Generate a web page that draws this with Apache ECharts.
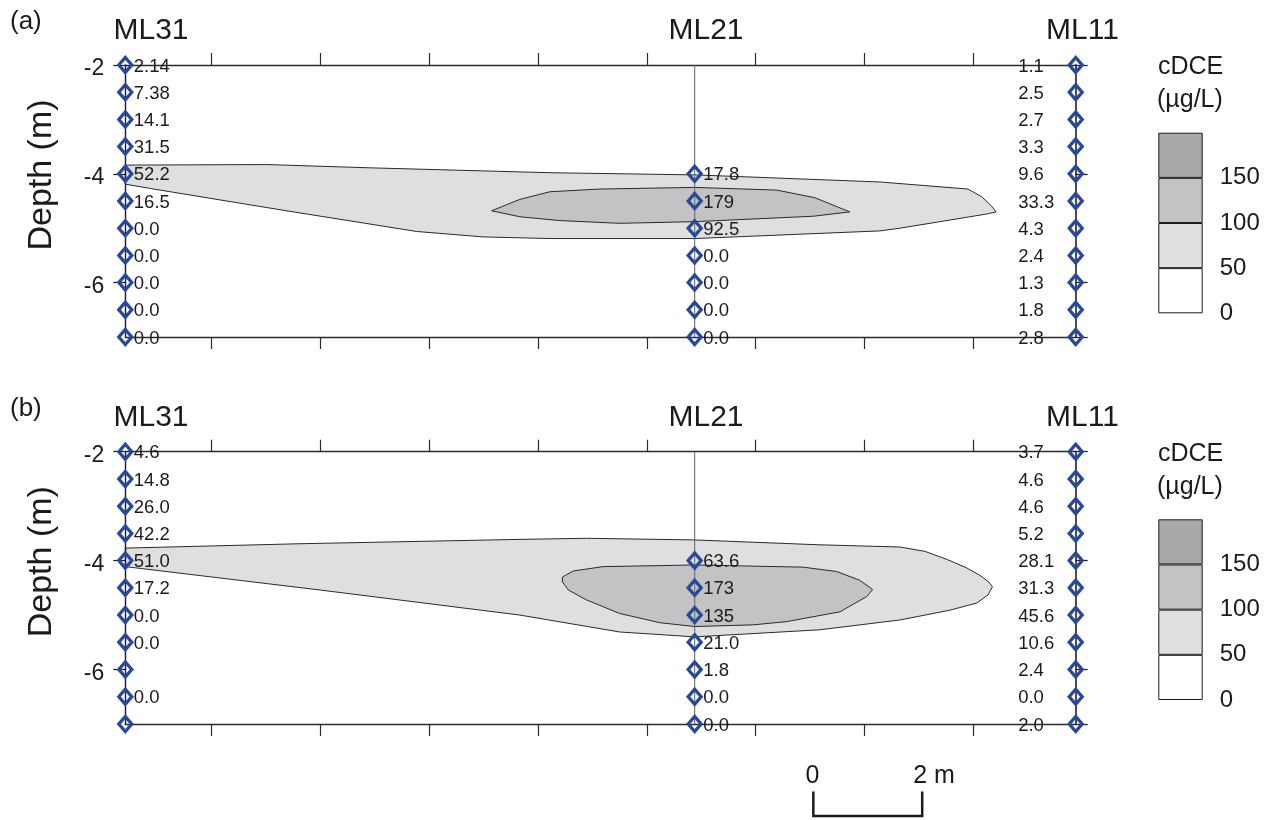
<!DOCTYPE html>
<html><head><meta charset="utf-8">
<script src="https://cdn.jsdelivr.net/npm/echarts@6/dist/echarts.min.js"></script>
<style>html,body{margin:0;padding:0;background:#fff}#c{width:1272px;height:820px}</style>
</head><body><div id="c"></div>
<script>
// ---------- data ----------
const depths = [-2, -2.5, -3, -3.5, -4, -4.5, -5, -5.5, -6, -6.5, -7];   // m
const wellNames = ['ML31', 'ML21', 'ML11'];
const wellX = [0, 10.46, 17.46];                                          // m along section
const xTicks = [1.58, 3.58, 5.58, 7.58, 9.58, 11.58, 13.58, 15.58];       // 2 m tick marks
const yTickLabels = [-2, -4, -6];
const legendLevels = [0, 50, 100, 150, 200];
const legendLabels = [0, 50, 100, 150];

// panel (a) concentrations (µg/L); null = no sampling port, '' = port without value
const a_ML31 = ['2.14', '7.38', '14.1', '31.5', '52.2', '16.5', '0.0', '0.0', '0.0', '0.0', '0.0'];
const a_ML21 = [null, null, null, null, '17.8', '179', '92.5', '0.0', '0.0', '0.0', '0.0'];
const a_ML11 = ['1.1', '2.5', '2.7', '3.3', '9.6', '33.3', '4.3', '2.4', '1.3', '1.8', '2.8'];
// panel (b)
const b_ML31 = ['4.6', '14.8', '26.0', '42.2', '51.0', '17.2', '0.0', '0.0', '', '0.0', ''];
const b_ML21 = [null, null, null, null, '63.6', '173', '135', '21.0', '1.8', '0.0', '0.0'];
const b_ML11 = ['3.7', '4.6', '4.6', '5.2', '28.1', '31.3', '45.6', '10.6', '2.4', '0.0', '2.0'];

// contour outlines [distance m, depth m]
const a_c50 = [[0,-3.84],[2.60,-3.83],[4.49,-3.89],[7.80,-3.98],[10.46,-4.02],[13.86,-4.15],
  [15.48,-4.28],[15.73,-4.42],[15.91,-4.59],[16.00,-4.70],[15.82,-4.74],[15.15,-4.85],[14.23,-5.00],
  [13.86,-5.05],[10.46,-5.19],[7.80,-5.19],[6.57,-5.16],[5.35,-5.06],[2.90,-4.67],[0.46,-4.27],[0,-4.19]];
const a_c100 = [[6.73,-4.68],[7.00,-4.57],[7.25,-4.47],[7.80,-4.33],[8.72,-4.28],[10.46,-4.25],[11.97,-4.30],
  [12.67,-4.44],[13.31,-4.70],[12.64,-4.78],[10.46,-4.88],[9.08,-4.91],[7.98,-4.86],[7.25,-4.79]];
const b_c50 = [[0,-3.77],[3.21,-3.69],[7.25,-3.61],[8.47,-3.59],[10.46,-3.62],[12.76,-3.71],
  [14.23,-3.75],[14.69,-3.83],[15.10,-3.98],[15.45,-4.13],[15.70,-4.27],[15.86,-4.39],[15.93,-4.48],
  [15.85,-4.63],[15.64,-4.78],[15.15,-4.91],[14.23,-5.09],[12.76,-5.27],[10.46,-5.40],[9.08,-5.31],
  [7.25,-5.00],[3.58,-4.54],[0,-4.11]];
const b_c100 = [[8.03,-4.30],[8.23,-4.19],[8.78,-4.11],[10.46,-4.08],[12.45,-4.12],[13.07,-4.20],
  [13.49,-4.36],[13.73,-4.53],[13.62,-4.66],[13.13,-4.94],[12.15,-5.12],[11.53,-5.18],[10.46,-5.21],
  [9.82,-5.14],[9.08,-4.97],[8.47,-4.72],[8.14,-4.54],[8.03,-4.39]];

const scaleBar = [12.64, 14.64];   // 0 – 2 m bar (x positions, m)

// ---------- style ----------
const FONT = "'Liberation Sans', Arial, sans-serif";
const INK = '#1c1a1b';
const FILL = ['#ffffff', '#dfdfdf', '#c3c3c3', '#a8a8a8'];
const BLUE = '#284899';

function polySeries(xi, yi, pts, color) {
  return {
    type: 'custom', xAxisIndex: xi, yAxisIndex: yi, z: 1, silent: true,
    data: pts,
    renderItem: (params, api) => {
      if (params.dataIndex !== 0) return null;
      return { type: 'polygon', shape: { points: pts.map(p => api.coord(p)) },
        style: { fill: color, stroke: '#2a2a2a', lineWidth: 1 } };
    }
  };
}

function wellSeries(xi, yi, w, labels) {
  const data = [];
  labels.forEach((lab, i) => { if (lab !== null) data.push({ value: [wellX[w], depths[i], lab] }); });
  const lbl = w === 2
    ? { position: [-49.5, '50%'], align: 'left', verticalAlign: 'middle' }
    : { position: 'right', distance: 0.5, align: 'left', verticalAlign: 'middle' };
  return {
    type: 'scatter', xAxisIndex: xi, yAxisIndex: yi, z: 5, silent: true,
    symbol: 'diamond', symbolSize: [13, 15],
    itemStyle: { color: 'rgba(255,255,255,0)', borderColor: BLUE, borderWidth: 3.3, opacity: 1 },
    label: Object.assign({ show: true, offset: [0, 1.5],
      formatter: p => p.value[2], fontSize: 18.5, fontFamily: FONT, color: INK, textBorderWidth: 0 }, lbl),
    data
  };
}

function ml21Line(xi, yi) {
  return { type: 'line', xAxisIndex: xi, yAxisIndex: yi, z: 3, silent: true, symbol: 'none',
    lineStyle: { color: '#6f6f6f', width: 1.1 },
    data: [[wellX[1], depths[0]], [wellX[1], depths[depths.length - 1]]] };
}

function xAx(grid, pos) {
  return { gridIndex: grid, type: 'value', min: wellX[0], max: wellX[2], position: pos,
    axisLine: { show: true, onZero: false, lineStyle: { color: '#2b2b2b', width: 1.3 } },
    axisTick: { show: true, customValues: xTicks, length: 12, lineStyle: { color: '#2b2b2b', width: 1.2 } },
    axisLabel: { show: false }, splitLine: { show: false } };
}
function yAxLeft(grid) {
  return { gridIndex: grid, type: 'value', min: -7, max: -2, position: 'left', z: 3,
    axisLine: { show: true, onZero: false, lineStyle: { color: INK, width: 1.4 } },
    axisTick: { show: true, customValues: yTickLabels, length: 12, lineStyle: { color: INK, width: 1.2 } },
    axisLabel: { show: true, customValues: yTickLabels, margin: 21,
      formatter: v => '{t|' + v + '}',
      rich: { t: { fontSize: 23, fontFamily: FONT, color: INK, padding: [8, 0, 0, 0] } } },
    splitLine: { show: false } };
}
function yAxRight(grid) {
  return { gridIndex: grid, type: 'value', min: -7, max: -2, position: 'right', z: 3,
    axisLine: { show: true, onZero: false, lineStyle: { color: '#444', width: 1.9 } },
    axisTick: { show: true, customValues: [-2, -4, -6, -7], length: 12, lineStyle: { color: INK, width: 1.2 } },
    axisLabel: { show: false }, splitLine: { show: false } };
}

function legendSeries(xi, yi) {
  const out = [];
  for (let k = 0; k < legendLevels.length - 1; k++) {
    out.push({ type: 'bar', xAxisIndex: xi, yAxisIndex: yi, stack: 'leg' + xi, silent: true,
      barWidth: '100%', itemStyle: { color: FILL[k], borderColor: INK, borderWidth: 1 },
      data: [legendLevels[k + 1] - legendLevels[k]] });
  }
  return out;
}
function legX(grid) { return { gridIndex: grid, type: 'category', data: ['c'], show: false }; }
function legY(grid) {
  return { gridIndex: grid, type: 'value', min: legendLevels[0], max: legendLevels[legendLevels.length - 1],
    position: 'right', axisLine: { show: false }, axisTick: { show: false }, splitLine: { show: false },
    axisLabel: { show: true, customValues: legendLabels, fontSize: 24, fontFamily: FONT, color: INK, margin: 17 } };
}

function scaleSeries(xi, yi) {
  return { type: 'custom', xAxisIndex: xi, yAxisIndex: yi, clip: false, silent: true, z: 5,
    data: [[scaleBar[0], -8.24]],
    renderItem: (params, api) => {
      const p0 = api.coord([scaleBar[0], -8.24]), p1 = api.coord([scaleBar[0], -8.69]);
      const p2 = api.coord([scaleBar[1], -8.69]), p3 = api.coord([scaleBar[1], -8.24]);
      return { type: 'group', children: [
        { type: 'polyline', shape: { points: [p0, p1, p2, p3] }, style: { stroke: INK, lineWidth: 2.5, fill: null } },
        { type: 'text', style: { text: '0', x: p0[0] - 1, y: p0[1] - 15, align: 'center', verticalAlign: 'middle',
            fontSize: 25, fontFamily: FONT, fill: INK } },
        { type: 'text', style: { text: '2 m', x: p3[0] - 9, y: p3[1] - 15, align: 'left', verticalAlign: 'middle',
            fontSize: 25, fontFamily: FONT, fill: INK } }
      ] };
    } };
}

const PANEL_DY = 386.7;
const graphics = [];
['(a)', '(b)'].forEach((t, i) => {
  const dy = i * PANEL_DY;
  graphics.push({ type: 'text', x: 10, y: 22 + dy, style: { text: t, fontSize: 26, fontFamily: FONT, fill: INK, align: 'left', verticalAlign: 'middle' } });
  [151, 706, 1082.5].forEach((cx, w) => graphics.push({ type: 'text', x: cx, y: 31 + dy,
    style: { text: wellNames[w], fontSize: 30, fontFamily: FONT, fill: INK, align: 'center', verticalAlign: 'middle' } }));
  graphics.push({ type: 'text', x: 42, y: 175 + dy, rotation: Math.PI / 2,
    style: { text: 'Depth (m)', fontSize: 34, fontFamily: FONT, fill: INK, align: 'center', verticalAlign: 'middle' } });
  graphics.push({ type: 'text', x: 1158, y: 67 + dy, style: { text: 'cDCE', fontSize: 25, fontFamily: FONT, fill: INK, align: 'left', verticalAlign: 'middle' } });
  graphics.push({ type: 'text', x: 1157, y: 100 + dy, style: { text: '(µg/L)', fontSize: 25, fontFamily: FONT, fill: INK, align: 'left', verticalAlign: 'middle' } });
});

const chart = echarts.init(document.getElementById('c'), null, { renderer: 'canvas' });
chart.setOption({
  animation: false,
  backgroundColor: '#fff',
  grid: [
    { left: 125.3, top: 65, width: 950.4, height: 272, outerBoundsMode: 'none' },
    { left: 125.3, top: 451.7, width: 950.4, height: 272.3, outerBoundsMode: 'none' },
    { left: 1158.3, top: 132.7, width: 44.4, height: 180.6, outerBoundsMode: 'none' },
    { left: 1158.3, top: 519.3, width: 44.4, height: 180.7, outerBoundsMode: 'none' }
  ],
  xAxis: [xAx(0, 'bottom'), xAx(0, 'top'), xAx(1, 'bottom'), xAx(1, 'top'), legX(2), legX(3)],
  yAxis: [yAxLeft(0), yAxRight(0), yAxLeft(1), yAxRight(1), legY(2), legY(3)],
  graphic: graphics,
  series: [
    polySeries(0, 0, a_c50, FILL[1]), polySeries(0, 0, a_c100, FILL[2]),
    ml21Line(0, 0),
    wellSeries(0, 0, 0, a_ML31), wellSeries(0, 0, 1, a_ML21), wellSeries(0, 0, 2, a_ML11),
    polySeries(2, 2, b_c50, FILL[1]), polySeries(2, 2, b_c100, FILL[2]),
    ml21Line(2, 2),
    wellSeries(2, 2, 0, b_ML31), wellSeries(2, 2, 1, b_ML21), wellSeries(2, 2, 2, b_ML11),
    scaleSeries(2, 2),
    ...legendSeries(4, 4), ...legendSeries(5, 5)
  ]
});
</script></body></html>
